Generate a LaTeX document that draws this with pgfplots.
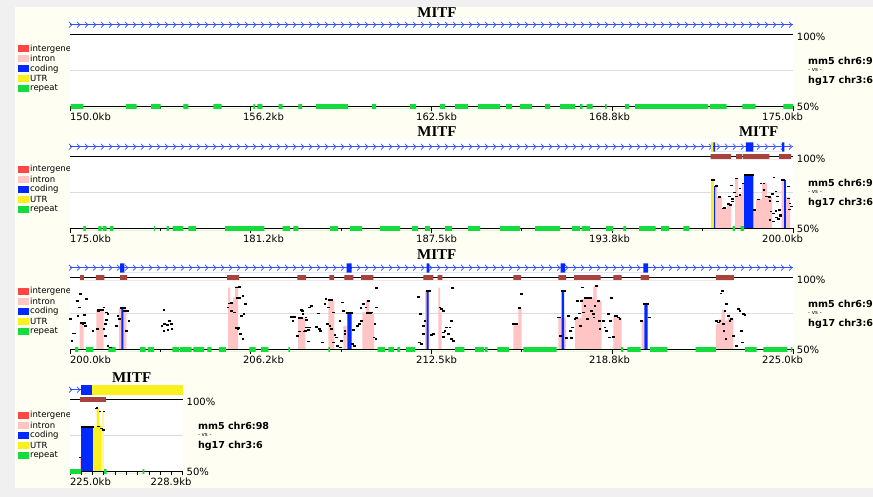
\documentclass[border=0pt]{standalone}
\usepackage{fontspec}
\setmainfont{DejaVu Sans}
\newfontfamily\titlefont{Liberation Serif}
\usepackage{pgfplots}
\pgfplotsset{compat=1.18}
\usetikzlibrary{decorations.markings}

\definecolor{vInter}{HTML}{FF4646}
\definecolor{vIntron}{HTML}{FFC4C4}
\definecolor{vCoding}{HTML}{0028FF}
\definecolor{vUTR}{HTML}{FAF01E}
\definecolor{vUTRpale}{HTML}{FFF89A}
\definecolor{vRepeat}{HTML}{14DC3C}
\definecolor{vCons}{HTML}{A8423C}
\definecolor{geneblue}{HTML}{3050FF}
\definecolor{cream}{HTML}{FEFEF2}
\definecolor{outergray}{HTML}{F0F0F0}
\definecolor{midgray}{HTML}{DCDCDC}

\pgfplotsset{
  vista/.style={
    scale only axis, height=72pt, ymin=50, ymax=100, clip=false,
    axis x line=bottom, axis y line=none,
    x axis line style={draw=none},
    tick align=outside,
    major tick length=5pt, minor tick length=3pt,
    every tick/.style={black, line width=0.8pt},
    xticklabels={},
    extra x tick style={major tick length=0pt, tick style={draw=none}},
    xticklabel style={font=\fontsize{10}{12}\selectfont, inner sep=0pt, anchor=north, yshift=-6pt},
  },
  gene/.style={geneblue, line width=0.8pt, postaction={decorate},
    decoration={markings, mark=between positions 1pt and 1 step 8pt with {\draw[geneblue, line width=0.7pt] (-2pt,2.8pt)--(1pt,0pt)--(-2pt,-2.8pt);}}},
  gene2/.style={draw=none, postaction={decorate},
    decoration={markings, mark=between positions 4pt and 1 step 8pt with {\draw[geneblue!70, line width=0.7pt] (-2pt,2.8pt)--(1pt,0pt)--(-2pt,-2.8pt);}}},
  dots/.style={only marks, mark=-, mark size=1.4pt, mark options={line width=1.5pt, black}},
  cap/.style={black, line width=2pt},
  rep/.style={fill=vRepeat, draw=none},
  cons/.style={fill=vCons, draw=none},
}

\newcommand{\vlegend}[1]{%
  \foreach \c/\t [count=\i from 0] in {vInter/intergene, vIntron/intron, vCoding/coding, vUTR/UTR, vRepeat/repeat}{%
    \fill[\c] (18pt,{(#1-10*\i-3.7)*1pt}) rectangle (29.3pt,{(#1-10*\i+3.7)*1pt});
    \node[anchor=west, inner sep=0pt, font=\fontsize{8.5}{9}\selectfont] at (30pt,{(#1-10*\i)*1pt}) {\t};
  }%
}
\newcommand{\rightlabels}{%
  \node[anchor=west, inner sep=0pt, font=\fontsize{10}{12}\selectfont, xshift=3.7pt, yshift=-2.7pt] at (rel axis cs:1,1) {100\%};
  \node[anchor=west, inner sep=0pt, font=\fontsize{10}{12}\selectfont, xshift=3.7pt] at (rel axis cs:1,0) {50\%};
  \node[anchor=west, inner sep=0pt, font=\bfseries\fontsize{9.6}{11}\selectfont, xshift=15pt] at (rel axis cs:1,0.638) {mm5 chr6:98};
  \node[anchor=west, inner sep=0pt, font=\fontsize{5.5}{6}\selectfont, xshift=15pt] at (rel axis cs:1,0.51) {- vs -};
  \node[anchor=west, inner sep=0pt, font=\bfseries\fontsize{9.6}{11}\selectfont, xshift=15pt] at (rel axis cs:1,0.362) {hg17 chr3:6};
}
\newcommand{\panelbg}{%
  \fill[white] (rel axis cs:0,0) rectangle (rel axis cs:1,1.24);
  \draw[midgray, line width=1pt] (rel axis cs:0,0.5) -- (rel axis cs:1,0.5);
  \draw[black, line width=1pt] (rel axis cs:0,1) -- (rel axis cs:1,1);
}
\newcommand{\bottomline}{\draw[black, line width=1pt] (rel axis cs:0,0) -- (rel axis cs:1,0);}
\newcommand{\mitf}[2]{\node[font={\titlefont\bfseries\fontsize{15}{15}\selectfont}] at (axis cs:#1,#2) {MITF};}

\begin{document}
\begin{tikzpicture}
\useasboundingbox (0,0) rectangle (873pt,497pt);
\clip (0,0) rectangle (873pt,497pt);
\fill[outergray] (0,0) rectangle (873pt,497pt);
\fill[cream] (15pt,9.3pt) rectangle (873pt,490pt);

% legends
\vlegend{448.3}
\vlegend{327.5}
\vlegend{205.7}
\vlegend{81.7}

%================ PANEL 1 ================
\begin{axis}[vista, width=723pt, at={(70pt,390.5pt)}, anchor=south west,
  xmin=150, xmax=175,
  xtick={150,156.25,162.5,168.75,175},
  minor xtick={153.125,159.375,165.625,171.875},
  extra x ticks={150.709,156.691,162.674,168.656,174.639},
  extra x tick labels={150.0kb,156.2kb,162.5kb,168.8kb,175.0kb}]
\panelbg
\bottomline
% repeats
\addplot[rep] coordinates {
 (150.024,48.3)(150.024,51.7)(150.460,51.7)(150.460,48.3)
 (151.936,48.3)(151.936,51.7)(152.306,51.7)(152.306,48.3)
 (152.801,48.3)(152.801,51.7)(153.136,51.7)(153.136,48.3)
 (153.918,48.3)(153.918,51.7)(154.091,51.7)(154.091,48.3)
 (154.955,48.3)(154.955,51.7)(155.246,51.7)(155.246,48.3)
 (156.338,48.3)(156.338,51.7)(156.397,51.7)(156.397,48.3)
 (156.477,48.3)(156.477,51.7)(156.650,51.7)(156.650,48.3)
 (157.217,48.3)(157.217,51.7)(157.355,51.7)(157.355,48.3)
 (157.895,48.3)(157.895,51.7)(158.023,51.7)(158.023,48.3)
 (158.507,48.3)(158.507,51.7)(159.613,51.7)(159.613,48.3)
 (160.443,48.3)(160.443,51.7)(160.581,51.7)(160.581,48.3)
 (161.757,48.3)(161.757,51.7)(161.965,51.7)(161.965,48.3)
 (162.795,48.3)(162.795,51.7)(162.968,51.7)(162.968,48.3)
 (163.313,48.3)(163.313,51.7)(163.763,51.7)(163.763,48.3)
 (164.109,48.3)(164.109,51.7)(164.869,51.7)(164.869,48.3)
 (165.077,48.3)(165.077,51.7)(165.284,51.7)(165.284,48.3)
 (165.561,48.3)(165.561,51.7)(165.976,51.7)(165.976,48.3)
 (166.426,48.3)(166.426,51.7)(166.598,51.7)(166.598,48.3)
 (166.944,48.3)(166.944,51.7)(167.463,51.7)(167.463,48.3)
 (167.636,48.3)(167.636,51.7)(167.729,51.7)(167.729,48.3)
 (167.867,48.3)(167.867,51.7)(168.075,51.7)(168.075,48.3)
 (168.500,48.3)(168.500,51.7)(168.559,51.7)(168.559,48.3)
 (169.192,48.3)(169.192,51.7)(169.330,51.7)(169.330,48.3)
 (169.538,48.3)(169.538,51.7)(172.052,51.7)(172.052,48.3)
 (172.131,48.3)(172.131,51.7)(172.708,51.7)(172.708,48.3)
 (173.248,48.3)(173.248,51.7)(173.711,51.7)(173.711,48.3)
 (174.666,48.3)(174.666,51.7)(175.000,51.7)(175.000,48.3)
};
\addplot[gene] coordinates {(150,106.8)(175,106.8)};
\mitf{162.69}{115.5}
\rightlabels
\end{axis}

%================ PANEL 2 ================
\begin{axis}[vista, width=723pt, at={(70pt,268.5pt)}, anchor=south west,
  xmin=175, xmax=200,
  xtick={175,181.25,187.5,193.75,200},
  minor xtick={178.125,184.375,190.625,196.875},
  extra x ticks={175.709,181.691,187.674,193.656,199.639},
  extra x tick labels={175.0kb,181.2kb,187.5kb,193.8kb,200.0kb}]
\panelbg
% conserved: intron
\addplot[fill=vIntron, draw=none] coordinates {
 (197.30,50)(197.30,79.5)(197.37,79.5)(197.37,72)(197.55,72)(197.55,64)(197.72,64)(197.72,67)(197.86,67)(197.86,50)
 (198.00,50)(198.00,84.8)(198.10,84.8)(198.10,73.3)(198.24,73.3)(198.24,81.4)(198.31,81.4)(198.31,50)
 (198.63,50)(198.63,62.8)(198.72,62.8)(198.72,70.3)(198.93,70.3)(198.93,81.4)(199.10,81.4)(199.10,72)(199.28,72)(199.28,50)
 (199.61,50)(199.61,83.7)(199.69,83.7)(199.69,50)
 (199.76,50)(199.76,72)(199.90,72)(199.90,50)
};
\addplot[fill=vUTR, draw=none] coordinates {(197.17,50)(197.17,83.7)(197.27,83.7)(197.27,50)};
\addplot[fill=vCoding, draw=none] coordinates {
 (197.27,50)(197.27,79.5)(197.31,79.5)(197.31,50)
 (198.31,50)(198.31,86.7)(198.63,86.7)(198.63,50)
 (199.69,50)(199.69,83.7)(199.75,83.7)(199.75,50)
};
\addplot[cap] coordinates {(197.16,83.7)(197.30,83.7)};
\addplot[cap] coordinates {(197.30,79.5)(197.42,79.5)};
\addplot[cap] coordinates {(198.29,87.0)(198.65,87.0)};
\addplot[cap] coordinates {(199.59,83.7)(199.73,83.7)};
\addplot[dots] coordinates {
 (197.881,79.7)(197.973,75.1)(197.915,70.5)(197.800,72.1)(197.904,68.6)(197.846,66.3)(198.054,72.1)(198.169,77.9)
 (198.895,81.4)(198.999,76.7)(199.091,72.1)(199.207,69.1)(199.299,73.9)(199.345,85.5)(199.414,75.6)(199.460,72.1)
 (199.460,68.6)(199.241,61.7)(199.322,60.5)(199.414,62.2)(199.529,62.8)(199.575,59.4)(199.437,57.5)(199.207,55.9)
 (199.322,54.7)(199.495,56.6)(199.575,58.2)(199.840,71.0)(199.898,67.5)(199.956,65.2)(199.875,63.3)(199.840,79.1)
 (197.60,64)(197.78,67)(198.05,84.8)(198.17,73.3)(198.27,81.4)(198.68,62.8)(198.82,70.3)(199.00,81.4)(199.18,72)
 (197.45,72)(197.62,64.2)
};
\bottomline
\addplot[rep] coordinates {
 (175.460,48.3)(175.460,51.7)(175.553,51.7)(175.553,48.3)
 (175.979,48.3)(175.979,51.7)(176.096,51.7)(176.096,48.3)
 (176.131,48.3)(176.131,51.7)(176.269,51.7)(176.269,48.3)
 (176.383,48.3)(176.383,51.7)(176.497,51.7)(176.497,48.3)
 (177.905,48.3)(177.905,51.7)(177.939,51.7)(177.939,48.3)
 (178.344,48.3)(178.344,51.7)(178.423,51.7)(178.423,48.3)
 (178.551,48.3)(178.551,51.7)(178.918,51.7)(178.918,48.3)
 (179.091,48.3)(179.091,51.7)(179.357,51.7)(179.357,48.3)
 (180.360,48.3)(180.360,51.7)(181.719,51.7)(181.719,48.3)
 (182.355,48.3)(182.355,51.7)(182.608,51.7)(182.608,48.3)
 (182.722,48.3)(182.722,51.7)(182.895,51.7)(182.895,48.3)
 (183.991,48.3)(183.991,51.7)(184.267,51.7)(184.267,48.3)
 (184.682,48.3)(184.682,51.7)(185.097,51.7)(185.097,48.3)
 (185.720,48.3)(185.720,51.7)(186.411,51.7)(186.411,48.3)
 (186.826,48.3)(186.826,51.7)(187.034,51.7)(187.034,48.3)
 (187.276,48.3)(187.276,51.7)(187.449,51.7)(187.449,48.3)
 (187.968,48.3)(187.968,51.7)(188.210,51.7)(188.210,48.3)
 (188.763,48.3)(188.763,51.7)(189.178,51.7)(189.178,48.3)
 (189.869,48.3)(189.869,51.7)(190.561,51.7)(190.561,48.3)
 (191.080,48.3)(191.080,51.7)(191.944,51.7)(191.944,48.3)
 (192.359,48.3)(192.359,51.7)(192.636,51.7)(192.636,48.3)
 (192.694,48.3)(192.694,51.7)(192.982,51.7)(192.982,48.3)
 (193.535,48.3)(193.535,51.7)(193.787,51.7)(193.787,48.3)
 (194.133,48.3)(194.133,51.7)(194.226,51.7)(194.226,48.3)
 (194.676,48.3)(194.676,51.7)(195.253,51.7)(195.253,48.3)
 (195.437,48.3)(195.437,51.7)(195.714,51.7)(195.714,48.3)
 (196.208,48.3)(196.208,51.7)(196.415,51.7)(196.415,48.3)
 (197.913,48.3)(197.913,51.7)(197.993,51.7)(197.993,48.3)
 (198.190,48.3)(198.190,51.7)(198.307,51.7)(198.307,48.3)
};
% conserved bars at top
\addplot[cons] coordinates {
 (197.154,98.2)(197.154,101.6)(197.856,101.6)(197.856,98.2)
 (198.030,98.2)(198.030,101.6)(198.248,101.6)(198.248,98.2)
 (198.272,98.2)(198.272,101.6)(199.182,101.6)(199.182,98.2)
 (199.517,98.2)(199.517,101.6)(199.932,101.6)(199.932,98.2)
};
\addplot[gene] coordinates {(175,106.8)(200,106.8)};
\addplot[gene2] coordinates {(197.30,106.8)(200,106.8)};
\addplot[fill=vUTR, draw=none] coordinates {(197.166,103.3)(197.166,109.8)(197.246,109.8)(197.246,103.3)};
\addplot[fill=vCoding, draw=none] coordinates {
 (197.246,103.3)(197.246,109.8)(197.304,109.8)(197.304,103.3)
 (198.366,103.3)(198.366,109.8)(198.629,109.8)(198.629,103.3)
 (199.622,103.3)(199.622,109.8)(199.701,109.8)(199.701,103.3)
};
\mitf{187.69}{117}
\mitf{198.81}{117}
\rightlabels
\end{axis}

%================ PANEL 3 ================
\begin{axis}[vista, width=723pt, at={(70pt,147.5pt)}, anchor=south west,
  xmin=200, xmax=225,
  xtick={200,206.25,212.5,218.75,225},
  minor xtick={203.125,209.375,215.625,221.875},
  extra x ticks={200.709,206.691,212.674,218.656,224.639},
  extra x tick labels={200.0kb,206.2kb,212.5kb,218.8kb,225.0kb}]
\panelbg
\addplot[fill=vIntron, draw=none] coordinates {
 (200.335,50)(200.335,68.1)(200.474,68.1)(200.474,50)
 (200.909,50)(200.909,77.3)(201.165,77.3)(201.165,50)
 (201.694,50)(201.694,78.5)(201.947,78.5)(201.947,50)
 (205.464,50)(205.464,93)(205.533,93)(205.533,82)(205.637,82)(205.637,86)(205.706,86)(205.706,94)(205.810,94)(205.810,50)
 (207.884,50)(207.884,72.2)(208.137,72.2)(208.137,50)
 (208.932,50)(208.932,85)(209.049,85)(209.049,83.8)(209.139,83.8)(209.139,50)
 (209.451,50)(209.451,66.4)(209.568,66.4)(209.568,50)
 (210.108,50)(210.108,75.7)(210.236,75.7)(210.236,84.3)(210.350,84.3)(210.350,75.2)(210.512,75.2)(210.512,50)
 (212.276,50)(212.276,90.7)(212.425,90.7)(212.425,50)
 (212.736,50)(212.736,93)(212.800,93)(212.800,75.7)(212.853,75.7)(212.853,50)
 (215.330,50)(215.330,67.6)(215.502,67.6)(215.502,78.7)(215.618,78.7)(215.618,50)
 (216.885,50)(216.885,72.2)(217.151,72.2)(217.151,50)
 (217.463,50)(217.463,71.8)(217.695,71.8)(217.695,85)(217.809,85)(217.809,86.1)(218.096,86.1)(218.096,94.2)(218.213,94.2)(218.213,83.8)(218.384,83.8)(218.384,50)
 (218.787,50)(218.787,73.4)(218.904,73.4)(218.904,71.8)(219.076,71.8)(219.076,50)
 (219.769,50)(219.769,70)(219.859,70)(219.859,50)
 (222.329,50)(222.329,67.6)(222.419,67.6)(222.419,71)(222.533,71)(222.533,77.3)(222.647,77.3)(222.647,70)(222.740,70)(222.740,72.2)(222.936,72.2)(222.936,50)
};
\addplot[fill=vCoding, draw=none] coordinates {
 (201.774,50)(201.774,78.5)(201.843,78.5)(201.843,50)
 (209.589,50)(209.589,75.2)(209.741,75.2)(209.741,50)
 (212.335,50)(212.335,90.7)(212.404,90.7)(212.404,50)
 (217.002,50)(217.002,90.3)(217.082,90.3)(217.082,50)
 (219.859,50)(219.859,81.5)(219.976,81.5)(219.976,50)
};
\addplot[cap] coordinates {(200.334,68.1)(200.565,68.1)};
\addplot[cap] coordinates {(200.945,77.3)(201.176,77.3)};
\addplot[cap] coordinates {(201.718,78.5)(201.948,78.5)};
\addplot[cap] coordinates {(205.52,82.6)(205.64,82.6)};
\addplot[cap] coordinates {(205.75,86.1)(205.93,86.1)};
\addplot[cap] coordinates {(205.695,64.6)(205.89,64.6)};
\addplot[cap] coordinates {(207.884,72.2)(208.057,72.2)};
\addplot[cap] coordinates {(208.933,84.3)(209.106,84.3)};
\addplot[cap] coordinates {(209.544,75.2)(209.797,75.2)};
\addplot[cap] coordinates {(210.235,75.2)(210.431,75.2)};
\addplot[cap] coordinates {(212.31,90.7)(212.47,90.7)};
\addplot[cap] coordinates {(215.33,67.6)(215.50,67.6)};
\addplot[cap] coordinates {(216.967,90.3)(217.151,90.3)};
\addplot[cap] coordinates {(217.785,86.1)(218.062,86.1)};
\addplot[cap] coordinates {(219.803,81.5)(220.033,81.5)};
\addplot[dots] coordinates {
 (200.023,71.1)(200.069,56.0)(200.104,61.1)(200.162,61.1)(200.254,83.8)(200.277,73.4)(200.334,79.2)(200.369,88.4)
 (200.450,67.6)(200.507,68.7)(200.530,66.4)(200.565,85.0)(200.507,74.1)(200.795,63.0)(200.945,64.1)(200.991,76.9)
 (201.176,79.2)(201.257,75.7)(201.314,74.5)(201.222,67.6)(201.257,70.4)(201.176,64.1)(201.222,59.5)(201.314,52.5)
 (201.406,51.4)(201.602,66.4)(201.660,73.4)(201.718,71.1)(201.891,76.9)(201.983,76.9)(202.040,69.9)(201.948,63.0)
 (203.251,77.3)(203.182,66.4)(203.274,67.6)(203.366,66.9)(203.447,69.9)(203.504,67.6)(203.251,63.0)(203.389,63.4)
 (203.527,64.1)(205.464,79.2)(205.522,81.9)(205.579,76.9)(205.695,75.7)(205.752,93.1)(205.868,93.5)(205.983,87.3)
 (206.017,74.5)(206.063,81.5)(205.925,73.4)(205.810,64.1)(205.902,60.6)(205.983,57.2)(207.654,72.7)(207.712,69.9)
 (207.769,72.7)(207.999,77.3)(208.057,74.5)(208.173,70.4)(208.230,65.3)(208.138,63.0)(208.253,63.4)(207.862,59.5)
 (207.942,62.5)(208.346,80.3)
 (207.988,72.2)(208.045,76.9)(208.160,72.2)(208.091,62.5)(208.184,65.3)(208.299,65.3)(208.276,79.2)(208.241,55.6)
 (208.529,65.7)(208.587,75.0)(208.622,64.1)(208.668,63.0)(208.737,54.9)(208.818,81.5)(208.852,85.0)(208.898,67.6)
 (208.990,66.4)(209.048,64.1)(208.933,79.2)(209.106,75.7)(209.106,54.9)(209.163,60.2)(209.221,58.3)(209.256,52.5)
 (209.336,69.9)(209.394,56.0)(209.428,82.6)(209.452,76.9)(209.359,51.4)(209.509,60.6)(209.509,63.0)(209.774,53.7)
 (209.797,63.4)(209.832,52.5)(209.936,66.4)(210.005,67.6)(210.086,69.9)(210.062,78.7)(210.143,81.5)(210.235,79.2)
 (210.316,83.8)(210.431,75.7)(210.512,58.3)(210.581,57.2)(210.604,92.6)(210.547,67.6)(210.604,79.2)(212.045,86.6)
 (212.126,74.5)(212.218,66.4)(212.276,69.9)(212.218,60.6)(212.080,54.9)(212.160,53.7)(212.506,60.2)(212.564,60.6)
 (212.794,79.2)(212.852,78.0)(212.910,76.9)(212.967,63.0)(213.025,65.3)(212.910,61.8)(212.910,58.8)(213.083,60.6)
 (213.140,65.3)(213.198,69.9)(213.198,57.2)(213.256,56.0)(213.232,92.6)(215.330,67.6)(215.446,67.6)(215.538,78.7)
 (215.619,88.4)(216.886,72.2)
 (216.921,72.2)(216.967,59.5)(217.232,73.4)(217.174,57.9)(217.347,57.9)(217.313,63.0)(217.382,65.3)(217.463,71.1)
 (217.520,71.8)(217.543,83.8)(217.612,75.0)(217.659,66.4)(217.693,83.8)(217.728,93.1)(217.751,75.7)(217.808,80.3)
 (217.889,71.1)(218.039,76.9)(218.097,74.5)(218.120,72.2)(218.154,80.3)(218.269,83.8)(218.212,94.2)(218.304,69.9)
 (218.327,64.1)(218.442,69.9)(218.500,65.3)(218.558,63.0)(218.615,74.5)(218.650,58.3)(218.731,85.6)(218.696,69.9)
 (218.788,58.8)(218.846,73.4)(218.903,73.4)(218.961,72.2)(219.019,71.1)(219.768,69.9)(220.033,72.2)(222.362,69.9)
 (222.419,68.7)(222.477,69.9)(222.511,88.9)(222.569,90.7)(222.592,67.6)(222.615,63.0)(222.650,76.9)(222.684,57.2)
 (222.707,81.5)(222.765,73.4)(222.823,69.9)(222.880,71.1)(222.938,59.5)(223.053,52.5)(223.111,78.0)(223.168,76.9)
 (223.226,63.0)(223.284,74.5)(223.341,74.1)(223.261,54.9)
};
\bottomline
\addplot[rep] coordinates {
 (200.173,48.3)(200.173,51.7)(200.287,51.7)(200.287,48.3)
 (200.553,48.3)(200.553,51.7)(200.806,51.7)(200.806,48.3)
 (201.324,48.3)(201.324,51.7)(201.580,51.7)(201.580,48.3)
 (202.421,48.3)(202.421,51.7)(202.618,51.7)(202.618,48.3)
 (202.697,48.3)(202.697,51.7)(202.905,51.7)(202.905,48.3)
 (203.538,48.3)(203.538,51.7)(203.769,51.7)(203.769,48.3)
 (203.804,48.3)(203.804,51.7)(204.208,51.7)(204.208,48.3)
 (204.264,48.3)(204.264,51.7)(204.634,51.7)(204.634,48.3)
 (204.748,48.3)(204.748,51.7)(204.900,51.7)(204.900,48.3)
 (205.152,48.3)(205.152,51.7)(205.394,51.7)(205.394,48.3)
 (206.200,48.3)(206.200,51.7)(206.421,51.7)(206.421,48.3)
 (206.605,48.3)(206.605,51.7)(206.857,51.7)(206.857,48.3)
 (207.549,48.3)(207.549,51.7)(207.608,51.7)(207.608,48.3)
 (208.932,48.3)(208.932,51.7)(208.991,51.7)(208.991,48.3)
 (210.640,48.3)(210.640,51.7)(210.893,51.7)(210.893,48.3)
 (211.007,48.3)(211.007,51.7)(211.204,51.7)(211.204,48.3)
 (211.318,48.3)(211.318,51.7)(211.411,51.7)(211.411,48.3)
 (211.619,48.3)(211.619,51.7)(211.930,51.7)(211.930,48.3)
 (213.313,48.3)(213.313,51.7)(213.635,51.7)(213.635,48.3)
 (214.005,48.3)(214.005,51.7)(214.316,51.7)(214.316,48.3)
 (214.351,48.3)(214.351,51.7)(214.444,51.7)(214.444,48.3)
 (214.776,48.3)(214.776,51.7)(215.181,51.7)(215.181,48.3)
 (215.675,48.3)(215.675,51.7)(216.830,51.7)(216.830,48.3)
 (219.053,48.3)(219.053,51.7)(219.133,51.7)(219.133,48.3)
 (219.271,48.3)(219.271,51.7)(219.735,51.7)(219.735,48.3)
 (220.057,48.3)(220.057,51.7)(220.655,51.7)(220.655,48.3)
 (221.637,48.3)(221.637,51.7)(222.329,51.7)(222.329,48.3)
 (223.341,48.3)(223.341,51.7)(223.746,51.7)(223.746,48.3)
 (223.974,48.3)(223.974,51.7)(224.804,51.7)(224.804,48.3)
 (224.922,48.3)(224.922,51.7)(224.978,51.7)(224.978,48.3)
};
\addplot[cons] coordinates {
 (200.346,98.2)(200.346,101.6)(200.484,101.6)(200.484,98.2)
 (200.899,98.2)(200.899,101.6)(201.186,101.6)(201.186,98.2)
 (201.729,98.2)(201.729,101.6)(201.971,101.6)(201.971,98.2)
 (205.429,98.2)(205.429,101.6)(205.844,101.6)(205.844,98.2)
 (207.860,98.2)(207.860,101.6)(208.161,101.6)(208.161,98.2)
 (208.967,98.2)(208.967,101.6)(209.129,101.6)(209.129,98.2)
 (209.485,98.2)(209.485,101.6)(209.797,101.6)(209.797,98.2)
 (210.063,98.2)(210.063,101.6)(210.488,101.6)(210.488,98.2)
 (212.217,98.2)(212.217,101.6)(212.563,101.6)(212.563,98.2)
 (212.715,98.2)(212.715,101.6)(212.875,101.6)(212.875,98.2)
 (215.330,98.2)(215.330,101.6)(215.595,101.6)(215.595,98.2)
 (216.885,98.2)(216.885,101.6)(217.151,101.6)(217.151,98.2)
 (217.428,98.2)(217.428,101.6)(218.351,101.6)(218.351,98.2)
 (218.788,98.2)(218.788,101.6)(219.078,101.6)(219.078,98.2)
 (219.735,98.2)(219.735,101.6)(220.022,101.6)(220.022,98.2)
 (222.329,98.2)(222.329,101.6)(222.951,101.6)(222.951,98.2)
};
\addplot[gene] coordinates {(200,106.8)(225,106.8)};
\addplot[fill=vCoding, draw=none] coordinates {
 (201.729,103.3)(201.729,109.8)(201.878,109.8)(201.878,103.3)
 (209.565,103.3)(209.565,109.8)(209.738,109.8)(209.738,103.3)
 (212.335,103.3)(212.335,109.8)(212.425,109.8)(212.425,103.3)
 (216.969,103.3)(216.969,109.8)(217.118,109.8)(217.118,103.3)
 (219.825,103.3)(219.825,109.8)(219.988,109.8)(219.988,103.3)
};
\mitf{212.68}{116}
\rightlabels
\end{axis}

%================ PANEL 4 ================
\begin{axis}[vista, width=112.8pt, at={(70pt,25.5pt)}, anchor=south west,
  xmin=225, xmax=228.9,
  major tick length=4pt,
  xtick={225,225.39,225.78,226.17,226.56,226.95,227.34,227.73,228.12,228.51,228.9},
  extra x ticks={225.709,228.493},
  extra x tick labels={225.0kb,228.9kb}]
\panelbg
\addplot[fill=vIntron, draw=none] coordinates {(225.346,50)(225.346,59.6)(225.380,59.6)(225.380,50)};
\addplot[fill=vCoding, draw=none] coordinates {(225.380,50)(225.380,81.1)(225.806,81.1)(225.806,50)};
\addplot[fill=vUTR, draw=none] coordinates {(225.806,50)(225.806,81.1)(225.923,81.1)(225.923,93.9)(226.013,93.9)(226.013,82)(226.096,82)(226.096,50)};
\addplot[fill=vUTRpale, draw=none] coordinates {(226.096,50)(226.096,91)(226.176,91)(226.176,50)};
\addplot[cap] coordinates {(225.38,81.1)(225.84,81.1)};
\addplot[cap] coordinates {(225.90,93.9)(225.96,93.9)};
\addplot[dots] coordinates {(225.899,93.9)(226.037,91.5)(226.176,91.5)(225.992,81.1)(226.096,79.9)(226.152,78.8)(225.346,59.6)};
\bottomline
\addplot[rep] coordinates {
 (225.000,48.3)(225.000,51.7)(225.380,51.7)(225.380,48.3)
 (226.176,48.3)(226.176,51.7)(226.269,51.7)(226.269,48.3)
 (227.514,48.3)(227.514,51.7)(227.569,51.7)(227.569,48.3)
};
\addplot[cons] coordinates {(225.346,98.2)(225.346,101.6)(226.235,101.6)(226.235,98.2)};
\addplot[gene] coordinates {(225,106.8)(225.38,106.8)};
\addplot[fill=vCoding, draw=none] coordinates {(225.380,103.3)(225.380,109.8)(225.771,109.8)(225.771,103.3)};
\addplot[fill=vUTR, draw=none] coordinates {(225.771,103.3)(225.771,109.8)(228.900,109.8)(228.900,103.3)};
\mitf{227.13}{115}
\rightlabels
\end{axis}
\end{tikzpicture}
\end{document}
